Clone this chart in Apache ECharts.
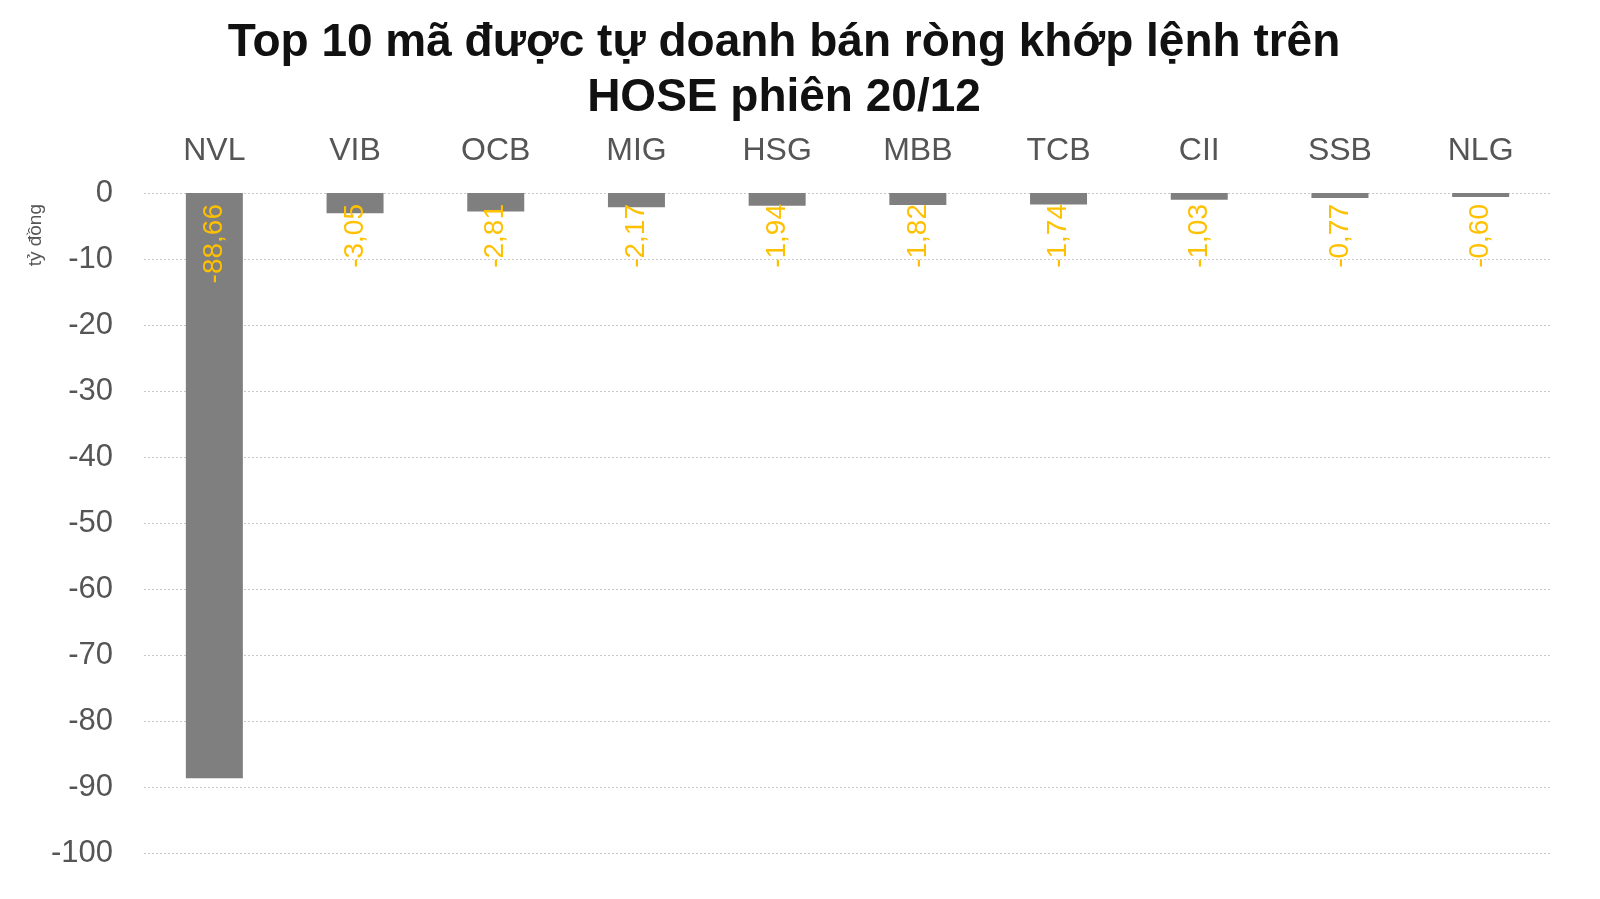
<!DOCTYPE html>
<html>
<head>
<meta charset="utf-8">
<script src="https://cdn.jsdelivr.net/npm/echarts@6/dist/echarts.min.js"></script>
<style>
html,body{margin:0;padding:0;background:#fff;}
#c{width:1600px;height:899px;}
</style>
</head>
<body>
<div id="c"></div>
<script>
const categories = ['NVL','VIB','OCB','MIG','HSG','MBB','TCB','CII','SSB','NLG'];
const values = [-88.66,-3.05,-2.81,-2.17,-1.94,-1.82,-1.74,-1.03,-0.77,-0.60];
const titleText = 'Top 10 mã được tự doanh bán ròng khớp lệnh trên\nHOSE phiên 20/12';
const unitText = 'tỷ đồng';

const chart = echarts.init(document.getElementById('c'));
chart.setOption({
  backgroundColor: '#fff',
  animation: false,
  title: {
    text: titleText,
    left: 779,
    textAlign: 'center',
    top: 11,
    textStyle: {
      fontFamily: 'Liberation Sans, Arial, sans-serif',
      fontWeight: 'bold',
      fontSize: 46,
      lineHeight: 55,
      color: '#111'
    }
  },
  graphic: [{
    type: 'text',
    left: 26,
    top: 204,
    rotation: Math.PI / 2,
    style: {
      text: unitText,
      fontSize: 19,
      fill: '#555',
      fontFamily: 'Liberation Sans, Arial, sans-serif'
    }
  }],
  grid: { left: 144, right: 49, top: 193, bottom: 46 },
  xAxis: {
    type: 'category',
    data: categories,
    position: 'top',
    axisLine: { show: false },
    axisTick: { show: false },
    axisLabel: {
      fontSize: 32,
      color: '#555',
      margin: 26,
      fontFamily: 'Liberation Sans, Arial, sans-serif'
    }
  },
  yAxis: {
    type: 'value',
    min: -100,
    max: 0,
    interval: 10,
    axisLine: { show: false },
    axisTick: { show: false },
    axisLabel: {
      fontSize: 31,
      color: '#555',
      margin: 31,
      fontFamily: 'Liberation Sans, Arial, sans-serif'
    },
    splitLine: { lineStyle: { color: '#c8c8c8', type: [2, 2], width: 1 } }
  },
  series: [{
    type: 'bar',
    data: values,
    barWidth: 57,
    itemStyle: { color: '#7f7f7f' },
    label: {
      show: true,
      position: 'insideTop',
      distance: 11,
      rotate: 90,
      align: 'right',
      verticalAlign: 'middle',
      color: '#FFC000',
      fontSize: 28,
      fontFamily: 'Liberation Sans, Arial, sans-serif',
      formatter: p => p.value.toFixed(2).replace('.', ',')
    }
  }]
});
</script>
</body>
</html>
